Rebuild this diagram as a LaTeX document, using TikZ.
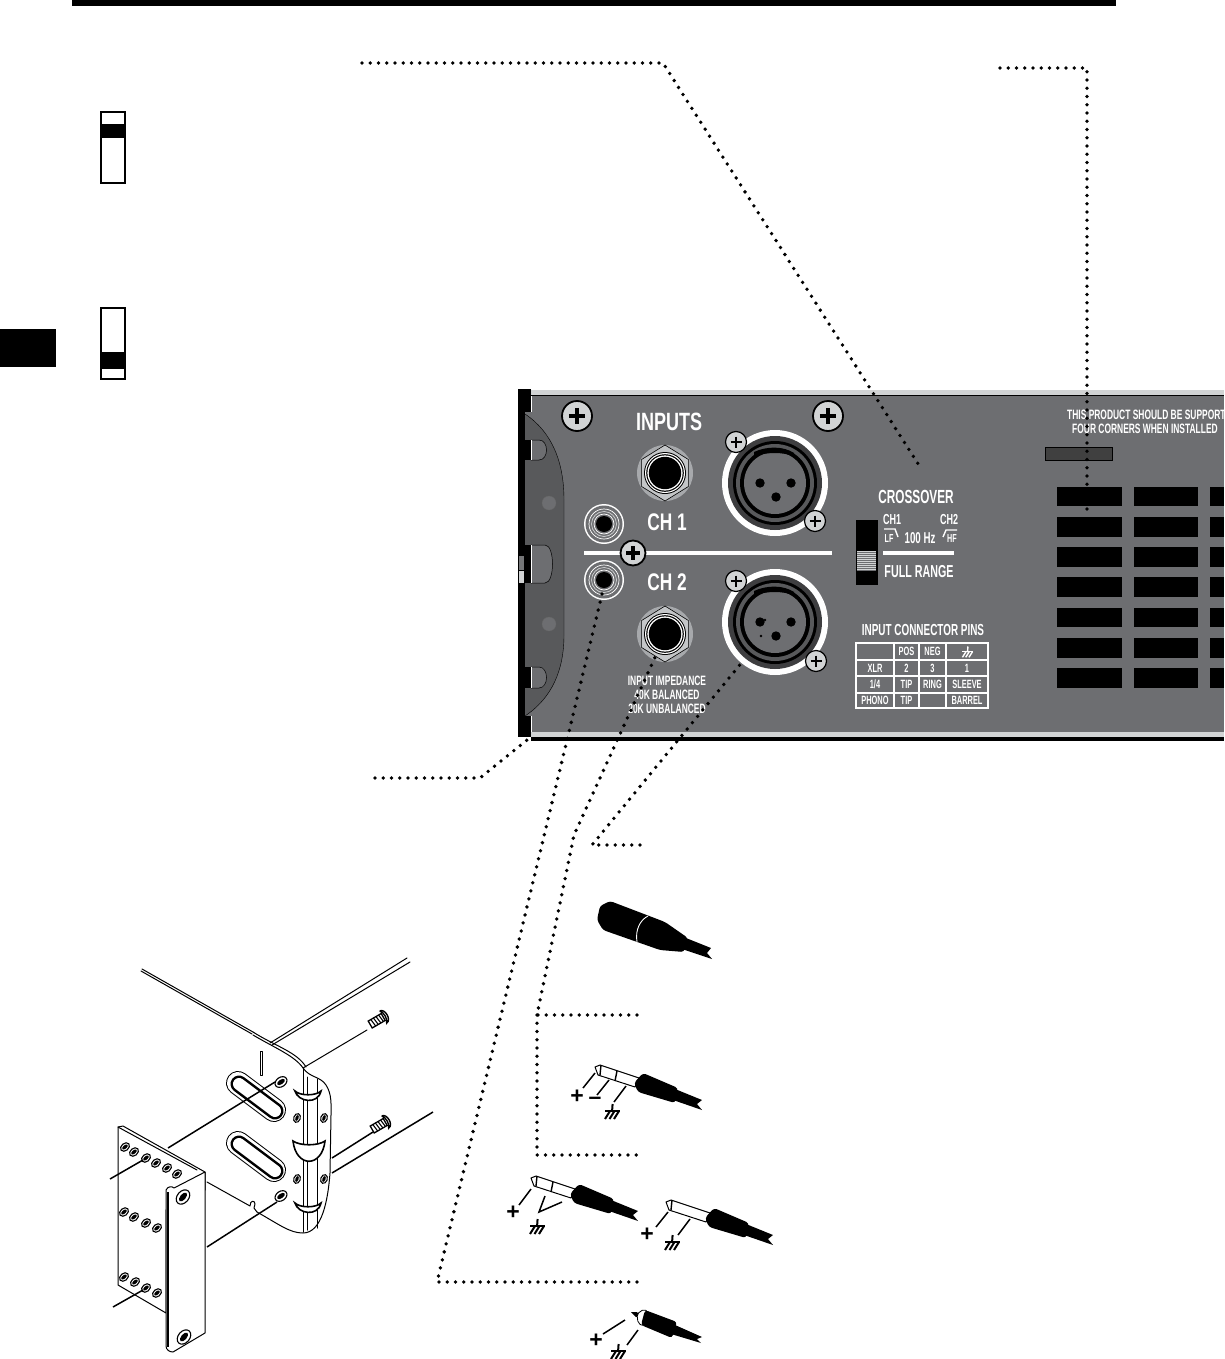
\documentclass[tikz,border=0pt]{standalone}
\usepackage{fontspec}
\setmainfont[FakeStretch=0.62]{Liberation Sans Bold}
\newfontfamily\widef[FakeStretch=0.72]{Liberation Sans Bold}
\newfontfamily\plainf{Liberation Sans Bold}
\definecolor{panelg}{HTML}{6D6E71}
\definecolor{eardk}{HTML}{58595B}
\definecolor{lightg}{HTML}{D1D3D4}
\definecolor{midg}{HTML}{A7A9AC}
\tikzset{
  leader/.style={line width=3.8pt,line cap=round,line join=round,dash pattern=on 0pt off 8.25pt,black},
  thinl/.style={line width=1pt,black,line cap=round,line join=round},
  wire/.style={line width=1.5pt,black},
  lab/.style={text=white,inner sep=0pt,align=center},
  sz/.style={font=\fontsize{#1}{#1}\selectfont},
  wsz/.style={font=\widef\fontsize{#1}{#1}\selectfont},
  cell/.style={lab,sz=12},
  vent/.style={fill=black,draw=none},
  sign/.style={inner sep=0pt,font=\plainf\fontsize{23}{23}\selectfont,text=black}
}
\newcommand{\bigscrew}[2]{\begin{scope}[shift={(#1)}]
  \fill[lightg,draw=black,line width=1.8pt] (0,0) circle [radius=#2];
  \draw[black,line width=3.2pt] (-#2*0.55,0) -- (#2*0.55,0) (0,-#2*0.55) -- (0,#2*0.55);
\end{scope}}
\newcommand{\smallscrew}[1]{\begin{scope}[shift={(#1)}]
  \fill[lightg,draw=black,line width=1.2pt] (0,0) circle [radius=10.5];
  \draw[black,line width=2.2pt] (-5.5,0) -- (5.5,0) (0,-5.5) -- (0,5.5);
\end{scope}}
\newcommand{\xlrjack}[1]{\begin{scope}[shift={(#1)}]
  \fill[white] (0,0) circle [radius=53];
  \fill[eardk!70!black] (0,0) circle [radius=47];
  \fill[black] (0,0) circle [radius=42];
  \fill[eardk] (0,0) circle [radius=39];
  \fill[black] (0,0) circle [radius=35];
  \fill[panelg] (0,0) circle [radius=31];
  \fill[black] (-21,-31) .. controls (-8,-37) and (8,-37) .. (19,-30) -- (19,-27) .. controls (6,-31) and (-6,-31) .. (-21,-27) -- cycle;
  \fill[black] (-15,0) circle [radius=4.7] (16,0) circle [radius=4.7] (1,14) circle [radius=4.7];
\end{scope}}
\newcommand{\quarterjack}[1]{\begin{scope}[shift={(#1)}]
  \fill[midg] (0,0) circle [radius=28];
  \fill[lightg!70!midg,draw=black,line width=.6pt] (90:28) -- (30:27) -- (-30:27) -- (-90:28) -- (-150:27) -- (150:27) -- cycle;
  \fill[black] (0,0) circle [radius=21];
  \fill[white] (0,0) circle [radius=20];
  \fill[black] (0,0) circle [radius=18.8];
  \fill[white] (0,0) circle [radius=17.6];
  \fill[black] (0,0) circle [radius=16.2];
\end{scope}}
\newcommand{\rcajack}[1]{\begin{scope}[shift={(#1)}]
  \fill[white] (0,0) circle [radius=20];
  \fill[panelg] (0,0) circle [radius=18.5];
  \draw[white,line width=.7pt] (0,0) circle [radius=15];
  \draw[lightg,line width=.7pt] (0,0) circle [radius=12.5];
  \draw[white,line width=.7pt] (0,0) circle [radius=10];
  \fill[black] (0,0) circle [radius=8];
\end{scope}}
\newcommand{\holeoval}[3]{\draw[black,fill=white,line width=1.1pt,rotate around={#2:(#1)}] (#1) ellipse [x radius=#3,y radius=#3*0.72];
  \fill[black,rotate around={#2:(#1)}] (#1) ellipse [x radius=#3*0.68,y radius=#3*0.35];}
% ground symbol: origin at top of stem
\newcommand{\groundsym}[2]{\begin{scope}[shift={(#1)},line width=2pt,#2]
  \draw (0.6,0) -- (0,8);
  \draw (-7,7) -- (8,7);
  \draw (-2,7) -- (-7,15) (2.5,7) -- (-2.5,15) (7,7) -- (2,15);
\end{scope}}
% quarter inch plug: origin at tip
\newcommand{\plugbody}[2]{\begin{scope}[shift={(#1)}]
  \draw[line width=1pt,fill=white,line join=round] (0,0) -- (5,-2) -- (44,11) -- (40,20) -- (3,8) -- cycle;
  #2
  \fill[black,rounded corners=3pt] (48,6) -- (83,21) -- (80,36) -- (43,25) -- (39,16) -- cycle;
  \fill[black] (80,22) -- (107,33) -- (102,37) -- (107,43) -- (78,33) -- cycle;
\end{scope}}
\begin{document}
\begin{tikzpicture}[x=1pt,y=-1pt]
\useasboundingbox (0,0) rectangle (1224,1359);
\clip (0,0) rectangle (1224,1359);
\fill[white] (0,0) rectangle (1224,1359);
% page furniture
\fill[black] (72,0) rectangle (1116,6);
\fill[black] (0,329) rectangle (56,367);
% switch icons
\draw[black,line width=1.5pt,fill=white] (101,112) rectangle (125,183);
\fill[black] (101,124) rectangle (125,138);
\draw[black,line width=1.5pt,fill=white] (101,308) rectangle (125,379);
\fill[black] (101,352) rectangle (125,369);
% panel
\fill[panelg] (525,396) rectangle (1224,732);
\fill[lightg] (524,390) rectangle (1224,395);
\fill[black] (530,395) rectangle (1224,396.3);
\fill[lightg] (531,732) rectangle (1224,737);
\fill[black] (531,737) rectangle (1224,741);
\fill[eardk] (525,414) .. controls (552,432) and (564,462) .. (564,500) -- (564,635) .. controls (564,670) and (552,698) .. (525,716) -- cycle;
\draw[black,line width=.4pt] (525,414) .. controls (552,432) and (564,462) .. (564,500) -- (564,635) .. controls (564,670) and (552,698) .. (525,716);
\fill[black] (518,389) rectangle (525,737);
\fill[black] (525,389) rectangle (531,412);
\fill[black] (525,716) rectangle (531,737);
\fill[white] (531,396.3) rectangle (532,412);
\fill[white] (531,716) rectangle (532,732);
\foreach \ya/\yb/\w in {440/460/14,545/583/20,667/688/14}{
  \fill[black] (525,\ya) rectangle (531,\yb);
  \fill[panelg,draw=black,line width=.5pt] (531,\ya) -- (\w+525,\ya) .. controls (\w+535,\ya) and (\w+535,\yb) .. (\w+525,\yb) -- (531,\yb) -- cycle;
  \fill[white] (530.5,\ya) rectangle (531.5,\yb);
}
\fill[midg!70!black] (519,556) rectangle (524,570);
\fill[lightg] (519,571) rectangle (524,583);
\fill[panelg,draw=black!60,line width=.3pt] (549,503) circle [radius=7];
\fill[panelg,draw=black!60,line width=.3pt] (549,624) circle [radius=7];
% white divider and jacks
\fill[white] (584,551) rectangle (832,555);
\xlrjack{775,483}
\xlrjack{775,622}
\fill[black] (765,620) circle [radius=1.4] (761,636) circle [radius=1.4];
\quarterjack{665,473}
\quarterjack{665,634}
\rcajack{604,524}
\rcajack{604,580}
\bigscrew{577,416}{15}
\bigscrew{828,416}{15}
\bigscrew{633,553}{12.5}
\smallscrew{736,442}
\smallscrew{815,521}
\smallscrew{736,581}
\smallscrew{816,661}
% panel text
\node[lab,wsz=25] (inputs) at (669,422) {INPUTS};
\node[lab,wsz=24] (chone) at (667,522) {CH 1};
\node[lab,wsz=24] (chtwo) at (667,582) {CH 2};
\node[lab,sz=13.6] (imp1) at (667,681) {INPUT IMPEDANCE};
\node[lab,sz=13.6] (imp2) at (667,695) {40K BALANCED};
\node[lab,sz=13.6] (imp3) at (667,709) {20K UNBALANCED};
\node[lab,sz=19] (xover) at (916,497) {CROSSOVER};
\node[lab,sz=14.5] (ch1s) at (892,520) {CH1};
\node[lab,sz=14.5] (ch2s) at (949,520) {CH2};
\node[lab,sz=11.6] (lfs) at (889,539) {LF};
\node[lab,sz=11.6] (hfs) at (952,539) {HF};
\node[lab,sz=15.7] (hz) at (920,538) {100 Hz};
\node[lab,sz=17.3] (frange) at (919,572) {FULL RANGE};
\fill[white] (883,551) rectangle (954,555);
\draw[white,line width=1.4pt] (884,529) -- (895,529) -- (898,537);
\draw[white,line width=1.4pt] (943,537) -- (946,530) -- (957,530);
\fill[black] (856,520) rectangle (878,585);
\fill[lightg] (857,551) rectangle (876,571);
\foreach \y in {552.5,554.5,...,570.5} \draw[panelg,line width=.4pt] (857,\y) -- (876,\y);
\node[lab,sz=16] (pins) at (923,630) {INPUT CONNECTOR PINS};
\draw[white,line width=1.5pt] (856,643) rectangle (988,708);
\foreach \x in {894,919,946} \draw[white,line width=1.5pt] (\x,643) -- (\x,708);
\foreach \y in {660,676,693} \draw[white,line width=1.5pt] (856,\y) -- (988,\y);
\foreach \t/\x/\y [count=\i] in {POS/906.5/651.5,NEG/932.5/651.5,XLR/875/668,2/906.5/668,3/932.5/668,1/967/668,1\slash 4/875/684.5,TIP/906.5/684.5,RING/932.5/684.5,SLEEVE/967/684.5,PHONO/875/700.5,TIP/906.5/700.5,BARREL/967/700.5}
  \node[cell] (cell\i) at (\x,\y) {\t};
\groundsym{967.5,646.5}{white,scale=.72,line width=1.4pt}
\node[lab,sz=13.6,anchor=west] (warn1) at (1067,415) {THIS PRODUCT SHOULD BE SUPPORT};
\node[lab,sz=13.6,anchor=west] (warn2) at (1072,429) {FOUR CORNERS WHEN INSTALLED};
\fill[black!75,draw=black,line width=.6pt] (1045,447) rectangle (1112,460);
\foreach \ya/\yb in {487/506,517/537,547/567,577/597,608/627,638/658,668/688}{
  \fill[vent] (1057,\ya) rectangle (1122,\yb);
  \fill[vent] (1134,\ya) rectangle (1198,\yb);
  \fill[vent] (1210,\ya) rectangle (1224,\yb);
}
% leaders
\coordinate (a0) at (362,63); \coordinate (a1) at (663,63); \coordinate (a2) at (922,470);
\coordinate (b0) at (1000,68); \coordinate (b1) at (1087,68); \coordinate (b2) at (1087,517);
\coordinate (c0) at (375,778); \coordinate (c1) at (480,778); \coordinate (c2) at (527,740);
\coordinate (d0) at (640,845); \coordinate (d1) at (592,845); \coordinate (d2) at (743,661);
\coordinate (e0) at (637,1015); \coordinate (e1) at (537,1015); \coordinate (e2) at (574,835); \coordinate (e3) at (657,653);
\coordinate (e4) at (537,1155); \coordinate (e5) at (637,1155);
\coordinate (f0) at (637,1282); \coordinate (f1) at (437,1282); \coordinate (f2) at (603,590);
\draw[leader] (a0) -- (a1) -- (a2);
\draw[leader] (b0) -- (b1) -- (b2);
\draw[leader] (c0) -- (c1) -- (c2);
\draw[leader] (d0) -- (d1) -- (d2);
\draw[leader] (e0) -- (e1) -- (e2) -- (e3);
\draw[leader] (e1) -- (e4) -- (e5);
\draw[leader] (f0) -- (f1) -- (f2);
% XLR cable
\fill[black,rounded corners=3pt] (600,906) -- (610,901) -- (665,922) -- (688,938) -- (684,952) -- (660,950) -- (603,930) -- (597,920) -- cycle;
\fill[black] (686,938) -- (711,948) -- (707,953) -- (712,959) -- (682,949) -- cycle;
\draw[white,line width=.9pt] (648,916) .. controls (640,920) and (635,930) .. (637,942);
% 1/4 TRS plug
\plugbody{595,1067}{\draw[line width=1.4pt] (6,-2) -- (5,8) (22,4) -- (20,14);}
\draw[wire] (595,1073) -- (583,1088) (609,1080) -- (597,1095) (626,1086) -- (614,1102);
\node[sign] (p1) at (577,1097) {+};
\node[sign] (m1) at (595,1101) {–};
\groundsym{612,1104}{black}
% left TRS plug
\plugbody{531,1178}{\draw[line width=1.4pt] (6,-2) -- (5,8) (22,4) -- (20,14);}
\draw[wire] (531,1189) -- (519,1205) (545,1196) -- (539,1212) -- (562,1202);
\node[sign] (p2) at (513,1213) {+};
\groundsym{537,1219}{black}
% right TS plug
\plugbody{666,1202}{\draw[line width=1.4pt] (6,-2) -- (5,8);}
\draw[wire] (668,1212) -- (656,1227) (690,1219) -- (678,1235);
\node[sign] (p3) at (647,1235) {+};
\groundsym{672,1235}{black}
% RCA plug
\fill[black] (631,1312) -- (637,1312) -- (640,1316) -- (636,1317) -- cycle;
\draw[black,fill=white,line width=.8pt,rounded corners=2pt] (637,1314) -- (644,1309) -- (648,1312) -- (643,1326) -- (638,1323) -- cycle;
\fill[black,rounded corners=3pt] (645,1310) -- (677,1322) -- (672,1338) -- (641,1325) -- cycle;
\fill[black] (675,1325) -- (702,1337) -- (697,1339) -- (701,1343) -- (671,1334) -- cycle;
\draw[wire] (625,1320) -- (603,1334) (638,1330) -- (627,1345);
\node[sign] (p4) at (596,1341) {+};
\groundsym{618,1344}{black}
% rack ear: rails
\draw[thinl] (142,969) -- (253,1032) (141,971) -- (252,1034);
\draw[thinl] (270,1043) -- (407,958) (272,1045) -- (410,962);
\draw[thinl] (303,1068) -- (367,1030);
% plate
\fill[white] (253,1035) .. controls (275,1048) and (295,1056) .. (303,1068) .. controls (310,1078) and (320,1076) .. (326,1085) .. controls (332,1094) and (331,1105) .. (331,1115) -- (330,1173) .. controls (328,1200) and (322,1233) .. (303,1233) .. controls (290,1233) and (280,1225) .. (257,1212) -- (207,1182) -- (170,1150) -- cycle;
\draw[thinl] (253,1035) .. controls (275,1048) and (295,1056) .. (303,1068) .. controls (310,1078) and (320,1076) .. (326,1085) .. controls (332,1094) and (331,1105) .. (331,1115) -- (330,1173) .. controls (328,1200) and (322,1233) .. (303,1233) .. controls (290,1233) and (280,1225) .. (257,1212);
\draw[thinl] (253,1032) .. controls (275,1046) and (297,1052) .. (306,1067);
\draw[thinl] (303,1068) -- (303,1232) (307,1077) -- (307,1230) (317,1079) -- (317,1228);
\draw[thinl] (207,1182) -- (250,1206) .. controls (250,1200) and (255,1200) .. (255,1204) -- (254,1208) -- (257,1212);
\draw[thinl,fill=white] (260,1051) -- (262,1051) -- (262,1075) -- (260,1075) -- cycle;
\foreach \ya/\yb in {1083/1110,1143/1170}{
  \draw[black,line width=24pt,line cap=round] (238,\ya) -- (274,\yb);
  \draw[white,line width=22pt,line cap=round] (238,\ya) -- (274,\yb);
  \draw[black,line width=17pt,line cap=round] (239,\ya+1) -- (275,\yb+1);
  \draw[white,line width=12pt,line cap=round] (239,\ya+1) -- (275,\yb+1);
}
\holeoval{281,1082}{35}{6.5}
\holeoval{281,1196}{35}{6.5}
\holeoval{297,1118}{70}{4.5}
\holeoval{324,1118}{70}{4.5}
\holeoval{297,1179}{70}{4.5}
\holeoval{324,1179}{70}{4.5}
\draw[black,line width=1.6pt,fill=white] (295,1091) .. controls (298,1102) and (318,1105) .. (321,1091) .. controls (316,1096) and (300,1096) .. (295,1091) -- cycle;
\draw[black,line width=1.6pt,fill=white] (293,1141) .. controls (296,1168) and (322,1168) .. (325,1141) .. controls (318,1146) and (300,1146) .. (293,1141) -- cycle;
\draw[black,line width=1.6pt,fill=white] (295,1203) .. controls (298,1214) and (318,1217) .. (321,1203) .. controls (316,1208) and (300,1208) .. (295,1203) -- cycle;
% lines through the plate
\draw[wire] (168,1148) -- (275,1082);
\draw[wire] (207,1247) -- (277,1202);
\draw[wire] (332,1158) -- (373,1132);
\draw[wire] (332,1173) -- (433,1112);
% screws
\begin{scope}[shift={(378,1020)},rotate=30]
  \draw[line width=1.3pt,fill=white] (-9,-4) rectangle (6,4);
  \foreach \x in {-6,-3,0,3} \draw[line width=1.1pt] (\x,-4) -- (\x+1,4);
  \draw[line width=1.4pt,fill=white] (6,-7) .. controls (12,-7) and (12,7) .. (6,7) .. controls (9,3) and (9,-3) .. (6,-7);
\end{scope}
\begin{scope}[shift={(380,1125)},rotate=30]
  \draw[line width=1.3pt,fill=white] (-9,-4) rectangle (6,4);
  \foreach \x in {-6,-3,0,3} \draw[line width=1.1pt] (\x,-4) -- (\x+1,4);
  \draw[line width=1.4pt,fill=white] (6,-7) .. controls (12,-7) and (12,7) .. (6,7) .. controls (9,3) and (9,-3) .. (6,-7);
\end{scope}
% ear
\draw[thinl,fill=white] (118,1127) -- (123,1126) -- (205,1172) -- (205,1190) -- (166,1210) -- (166,1313) -- (118,1285) -- cycle;
\draw[thinl] (118,1127) -- (197,1170);
\foreach \x/\y in {125/1147,134/1152,146/1158,156/1163,167/1168,177/1174,124/1212,134/1217,146/1223,157/1228,124/1277,135/1282,146/1288,157/1293}
  {\holeoval{\x,\y}{40}{5}}
\draw[wire] (110,1179) -- (143,1160);
\draw[wire] (113,1307) -- (143,1290);
\draw[thinl,fill=white] (166,1190) .. controls (168,1186) and (172,1186) .. (174,1188) -- (205,1172) -- (205,1333) -- (173,1352) .. controls (170,1352) and (166,1350) .. (166,1346) -- cycle;
\draw[black,line width=2.6pt] (168,1192) -- (168,1347);
\holeoval{183,1197}{50}{8}
\holeoval{184,1337}{50}{8}
\end{tikzpicture}
\end{document}
